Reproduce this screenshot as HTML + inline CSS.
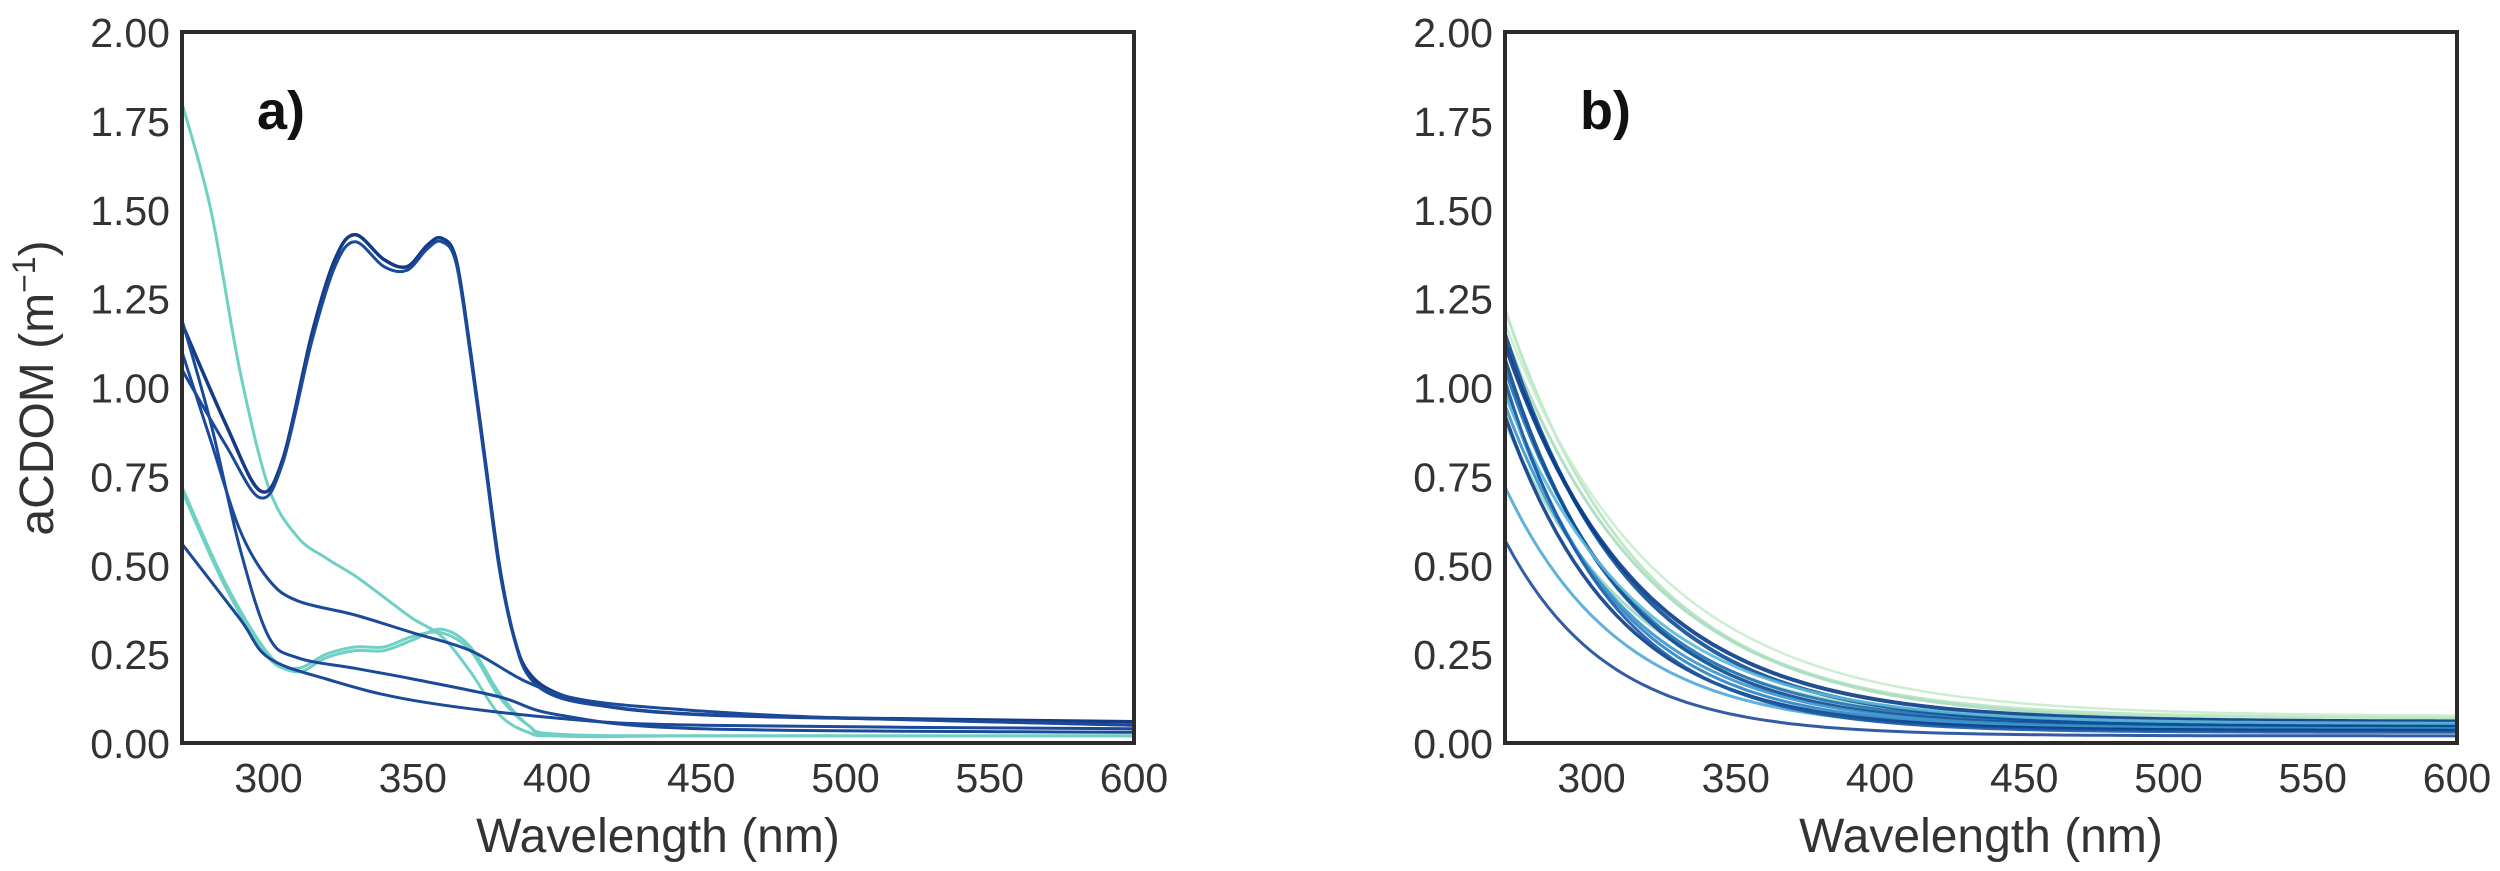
<!DOCTYPE html>
<html><head><meta charset="utf-8"><style>
html,body{margin:0;padding:0;background:#fff;}
svg{display:block;}
text{font-family:"Liberation Sans",sans-serif;fill:#333;}
</style></head><body>
<svg id="s" width="2500" height="871" viewBox="0 0 2500 871" xmlns="http://www.w3.org/2000/svg">
<g id="a"></g><g id="b"></g><g id="ax"></g>
</svg>
<script>
const NS="http://www.w3.org/2000/svg";
function el(p,t,a,txt){const e=document.createElementNS(NS,t);for(const k in a)e.setAttribute(k,a[k]);if(txt!==undefined)e.textContent=txt;p.appendChild(e);return e;}
const T=32,B=743;
const P=[{L:182,R:1134,g:document.getElementById('a')},{L:1505,R:2457,g:document.getElementById('b')}];
function X(p,w){return p.L+(w-270)*(p.R-p.L)/330;}
function Y(v){return B-v*(B-T)/2;}
function spline(p,pts){
  const q=pts.map(([w,v])=>[X(p,w),Y(v)]);
  let d="M"+q[0][0].toFixed(1)+","+q[0][1].toFixed(1);
  for(let i=0;i<q.length-1;i++){
    const p0=q[Math.max(0,i-1)],p1=q[i],p2=q[i+1],p3=q[Math.min(q.length-1,i+2)];
    const c1=[p1[0]+(p2[0]-p0[0])/6,p1[1]+(p2[1]-p0[1])/6],c2=[p2[0]-(p3[0]-p1[0])/6,p2[1]-(p3[1]-p1[1])/6];
    d+=" C"+c1.map(v=>v.toFixed(1))+" "+c2.map(v=>v.toFixed(1))+" "+p2[0].toFixed(1)+","+p2[1].toFixed(1);
  }
  return d;
}
const A=P[0];
const cy="#6fd0c4", db="#1c4a9a", nv="#153a86";
const ca=[
 [cy,3,[[270,1.80],[280,1.5],[290,1.05],[300,0.72],[310,0.58],[320,0.52],[330,0.47],[340,0.41],[350,0.35],[360,0.30],[370,0.2],[380,0.08],[390,0.03],[400,0.02],[450,0.02],[600,0.02]]],
 [cy,3,[[270,0.72],[285,0.45],[300,0.25],[310,0.2],[320,0.24],[330,0.26],[340,0.26],[350,0.29],[360,0.32],[370,0.27],[380,0.14],[390,0.05],[400,0.02],[450,0.02],[600,0.02]]],
 [cy,3,[[270,0.71],[285,0.44],[300,0.24],[310,0.21],[320,0.25],[330,0.27],[340,0.27],[350,0.30],[360,0.31],[370,0.26],[380,0.13],[390,0.05],[400,0.025],[450,0.02],[600,0.02]]],
 [nv,3.5,[[270,1.18],[285,0.9],[297,0.71],[305,0.8],[315,1.15],[323,1.36],[330,1.43],[340,1.36],[348,1.34],[355,1.40],[360,1.42],[365,1.36],[370,1.1],[375,0.8],[380,0.5],[385,0.3],[390,0.2],[400,0.14],[420,0.1],[450,0.08],[500,0.07],[600,0.06]]],
 [db,3,[[270,1.05],[285,0.84],[297,0.69],[305,0.79],[315,1.13],[323,1.34],[330,1.41],[340,1.34],[348,1.33],[355,1.39],[360,1.41],[365,1.35],[370,1.09],[375,0.79],[380,0.49],[385,0.3],[390,0.19],[400,0.13],[420,0.1],[450,0.08],[500,0.07],[600,0.05]]],
 [db,3,[[270,1.10],[280,0.85],[290,0.6],[300,0.46],[310,0.40],[330,0.36],[350,0.31],[370,0.26],[390,0.17],[410,0.12],[450,0.09],[500,0.07],[600,0.05]]],
 [db,3,[[270,1.19],[280,0.9],[290,0.55],[300,0.3],[310,0.24],[330,0.21],[350,0.18],[380,0.13],[400,0.08],[450,0.04],[600,0.03]]],
 [db,3,[[270,0.56],[290,0.35],[300,0.24],[320,0.18],[350,0.12],[400,0.07],[450,0.05],[600,0.04]]]
];
ca.forEach(([c,w,pts])=>el(A.g,'path',{d:spline(A,pts),fill:'none',stroke:c,'stroke-width':w}));
const Bp=P[1];
const cb=[
 ["#b5e6c0",1.22,0.021,0.07,3],["#a8dcc0",1.15,0.020,0.06,3],["#9fd8c6",0.9,0.022,0.05,3],
 ["#4fa8d8",0.72,0.025,0.035,3],["#2a84c4",1.0,0.026,0.04,3],["#1f6fb4",1.05,0.024,0.05,3],
 ["#0e4f98",1.15,0.023,0.05,4],["#083c88",1.12,0.022,0.06,4],["#0b4a90",1.08,0.025,0.045,3.5],
 ["#3b95cc",0.95,0.024,0.04,3],["#5bb8d8",0.98,0.022,0.055,3],["#0a3d86",0.92,0.026,0.035,3.5],
 ["#1a5aa6",1.02,0.027,0.03,3],["#1d4a9a",0.57,0.028,0.02,3],["#c6eccc",1.18,0.019,0.075,2.5]
];
cb.forEach(([c,a0,S,k,w])=>{
 let d="";for(let wl=270;wl<=600;wl+=3){const v=(a0-k)*Math.exp(-S*(wl-270))+k;d+=(d?"L":"M")+X(Bp,wl).toFixed(1)+","+Y(v).toFixed(1);}
 el(Bp.g,'path',{d,fill:'none',stroke:c,'stroke-width':w,'stroke-opacity':0.9});
});
const ax=document.getElementById('ax');
P.forEach((p,i)=>{
 el(ax,'rect',{x:p.L,y:T,width:p.R-p.L,height:B-T,fill:'none',stroke:'#2b2b2b','stroke-width':4});
 for(let k=0;k<=8;k++){const v=k*0.25;el(ax,'text',{x:p.L-12,y:Y(v)+15,'text-anchor':'end','font-size':41},v.toFixed(2));}
 for(let w=300;w<=600;w+=50){el(ax,'text',{x:X(p,w),y:B+49,'text-anchor':'middle','font-size':41},w);}
 el(ax,'text',{x:(p.L+p.R)/2,y:852,'text-anchor':'middle','font-size':48},'Wavelength (nm)');
 el(ax,'text',{x:p.L+75,y:129,'font-size':54,'font-weight':'bold',style:'fill:#111'},i?'b)':'a)');
});
const yl=el(ax,'text',{x:0,y:0,'text-anchor':'middle','font-size':48,transform:'translate(53,388) rotate(-90)'},'aCDOM (m');
el(yl,'tspan',{dy:-18,'font-size':32},'−1');
el(yl,'tspan',{dy:18},')');
</script>
</body></html>
